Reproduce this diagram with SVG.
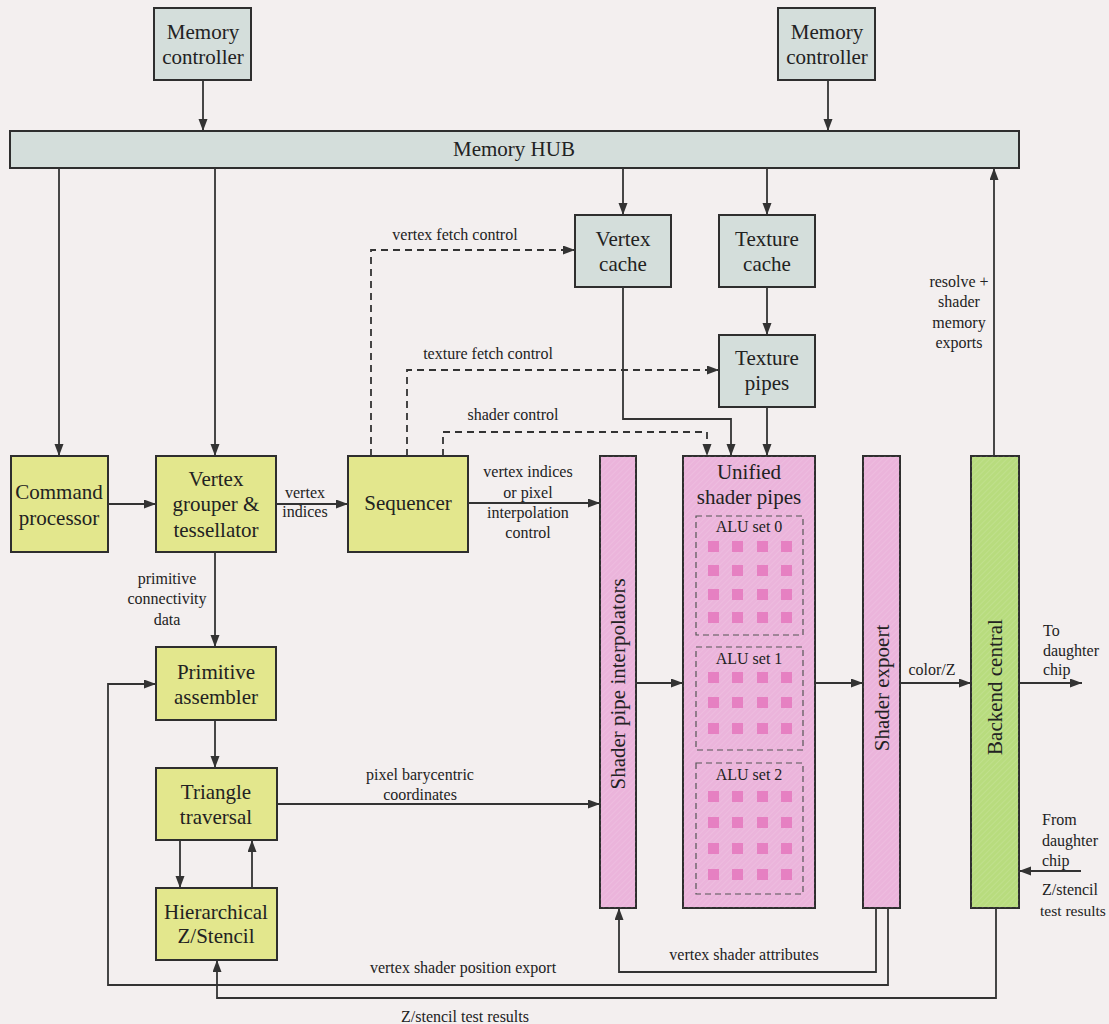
<svg xmlns="http://www.w3.org/2000/svg" width="1109" height="1024" viewBox="0 0 1109 1024">
<defs>
<marker id="ah" markerUnits="userSpaceOnUse" markerWidth="13" markerHeight="10" refX="12" refY="4.5" orient="auto">
<path d="M0,0 L12,4.5 L0,9 z" fill="#333"/>
</marker>
<pattern id="hatch" width="4" height="4" patternUnits="userSpaceOnUse" patternTransform="rotate(45)">
<rect width="4" height="4" fill="none"/>
<line x1="0" y1="0" x2="0" y2="4" stroke="#ffffff" stroke-opacity="0.22" stroke-width="1"/>
</pattern>
</defs>
<style>
.bg{fill:#f3efef}
.box{stroke:#2e2e2e;stroke-width:2}
.mem{fill:#d4dedb}
.yel{fill:#e3e78d}
.pink{fill:#ebb4db}
.green{fill:#b8dc7e}
.t{font-family:"Liberation Serif","Times New Roman",serif;font-size:21px;fill:#222;text-anchor:middle}
.s{font-family:"Liberation Serif","Times New Roman",serif;font-size:16px;fill:#222;text-anchor:middle}
.sl{font-family:"Liberation Serif","Times New Roman",serif;font-size:16px;fill:#222;text-anchor:start}
.ln{fill:none;stroke:#333;stroke-width:1.8}
.dl{fill:none;stroke:#333;stroke-width:1.8;stroke-dasharray:7,5}
.alu{fill:none;stroke:#555;stroke-width:1.2;stroke-dasharray:6,4}
.sq{fill:#e680c2}
</style>
<rect class="bg" x="0" y="0" width="1109" height="1024"/>

<g id="memory-controller-1"><rect class="box mem" x="154" y="8" width="97" height="72"/><text class="t" x="203" y="39">Memory</text><text class="t" x="203" y="64">controller</text></g>
<g id="memory-controller-2"><rect class="box mem" x="778" y="8" width="97" height="72"/><text class="t" x="827" y="39">Memory</text><text class="t" x="827" y="64">controller</text></g>
<g id="memory-hub"><rect class="box mem" x="10" y="131" width="1009" height="37"/><text class="t" x="514" y="156">Memory HUB</text></g>
<g id="vertex-cache"><rect class="box mem" x="575" y="215" width="96" height="72"/><text class="t" x="623" y="246">Vertex</text><text class="t" x="623" y="271">cache</text></g>
<g id="texture-cache"><rect class="box mem" x="719" y="215" width="96" height="72"/><text class="t" x="767" y="246">Texture</text><text class="t" x="767" y="271">cache</text></g>
<g id="texture-pipes"><rect class="box mem" x="719" y="335" width="96" height="72"/><text class="t" x="767" y="365">Texture</text><text class="t" x="767" y="390">pipes</text></g>

<g id="command-processor"><rect class="box yel" x="11" y="456" width="97" height="96"/><text class="t" x="59" y="499">Command</text><text class="t" x="59" y="525">processor</text></g>
<g id="vertex-grouper"><rect class="box yel" x="156" y="456" width="120" height="96"/><text class="t" x="216" y="486">Vertex</text><text class="t" x="216" y="511">grouper &amp;</text><text class="t" x="216" y="537">tessellator</text></g>
<g id="sequencer"><rect class="box yel" x="348" y="456" width="120" height="96"/><text class="t" x="408" y="510">Sequencer</text></g>
<g id="primitive-assembler"><rect class="box yel" x="156" y="647" width="120" height="73"/><text class="t" x="216" y="679">Primitive</text><text class="t" x="216" y="704">assembler</text></g>
<g id="triangle-traversal"><rect class="box yel" x="156" y="768" width="121" height="72"/><text class="t" x="216" y="799">Triangle</text><text class="t" x="216" y="824">traversal</text></g>
<g id="hierarchical-zstencil"><rect class="box yel" x="156" y="888" width="121" height="72"/><text class="t" x="216" y="919">Hierarchical</text><text class="t" x="216" y="943">Z/Stencil</text></g>

<g id="shader-pipe-interpolators"><rect class="box pink" x="600" y="456" width="36" height="452"/><rect x="600" y="456" width="36" height="452" fill="url(#hatch)"/><text class="t" transform="translate(625,684) rotate(-90)">Shader pipe interpolators</text></g>
<g id="unified-shader-pipes">
<rect class="box pink" x="683" y="456" width="132" height="452"/><rect x="683" y="456" width="132" height="452" fill="url(#hatch)"/>
<text class="t" x="749" y="479">Unified</text><text class="t" x="749" y="504">shader pipes</text>
<rect class="alu" x="696" y="516" width="107" height="119"/>
<text class="s" x="749" y="532">ALU set 0</text>
<rect class="alu" x="696" y="647" width="107" height="103"/>
<text class="s" x="749" y="664">ALU set 1</text>
<rect class="alu" x="696" y="763" width="107" height="131"/>
<text class="s" x="749" y="780">ALU set 2</text>
<g class="sq">
<rect x="708" y="541" width="11" height="11"/><rect x="732" y="541" width="11" height="11"/><rect x="757" y="541" width="11" height="11"/><rect x="781" y="541" width="11" height="11"/>
<rect x="708" y="565" width="11" height="11"/><rect x="732" y="565" width="11" height="11"/><rect x="757" y="565" width="11" height="11"/><rect x="781" y="565" width="11" height="11"/>
<rect x="708" y="589" width="11" height="11"/><rect x="732" y="589" width="11" height="11"/><rect x="757" y="589" width="11" height="11"/><rect x="781" y="589" width="11" height="11"/>
<rect x="708" y="612" width="11" height="11"/><rect x="732" y="612" width="11" height="11"/><rect x="757" y="612" width="11" height="11"/><rect x="781" y="612" width="11" height="11"/>
<rect x="708" y="672" width="11" height="11"/><rect x="732" y="672" width="11" height="11"/><rect x="757" y="672" width="11" height="11"/><rect x="781" y="672" width="11" height="11"/>
<rect x="708" y="697" width="11" height="11"/><rect x="732" y="697" width="11" height="11"/><rect x="757" y="697" width="11" height="11"/><rect x="781" y="697" width="11" height="11"/>
<rect x="708" y="723" width="11" height="11"/><rect x="732" y="723" width="11" height="11"/><rect x="757" y="723" width="11" height="11"/><rect x="781" y="723" width="11" height="11"/>
<rect x="708" y="791" width="11" height="11"/><rect x="732" y="791" width="11" height="11"/><rect x="757" y="791" width="11" height="11"/><rect x="781" y="791" width="11" height="11"/>
<rect x="708" y="817" width="11" height="11"/><rect x="732" y="817" width="11" height="11"/><rect x="757" y="817" width="11" height="11"/><rect x="781" y="817" width="11" height="11"/>
<rect x="708" y="843" width="11" height="11"/><rect x="732" y="843" width="11" height="11"/><rect x="757" y="843" width="11" height="11"/><rect x="781" y="843" width="11" height="11"/>
<rect x="708" y="869" width="11" height="11"/><rect x="732" y="869" width="11" height="11"/><rect x="757" y="869" width="11" height="11"/><rect x="781" y="869" width="11" height="11"/>
</g>
</g>
<g id="shader-export"><rect class="box pink" x="863" y="456" width="37" height="452"/><rect x="863" y="456" width="37" height="452" fill="url(#hatch)"/><text class="t" transform="translate(889,688) rotate(-90)">Shader expoert</text></g>
<g id="backend-central"><rect class="box green" x="971" y="456" width="48" height="452"/><rect x="971" y="456" width="48" height="452" fill="url(#hatch)"/><text class="t" transform="translate(1002,687) rotate(-90)">Backend central</text></g>

<g id="connectors">
<path class="ln" d="M203,80 V131" marker-end="url(#ah)"/>
<path class="ln" d="M828,80 V131" marker-end="url(#ah)"/>
<path class="ln" d="M59,168 V456" marker-end="url(#ah)"/>
<path class="ln" d="M215,168 V456" marker-end="url(#ah)"/>
<path class="ln" d="M623,168 V215" marker-end="url(#ah)"/>
<path class="ln" d="M767,168 V215" marker-end="url(#ah)"/>
<path class="ln" d="M767,287 V335" marker-end="url(#ah)"/>
<path class="ln" d="M623,287 V419 H731 V456" marker-end="url(#ah)"/>
<path class="ln" d="M767,407 V456" marker-end="url(#ah)"/>
<path class="ln" d="M994,456 V168" marker-end="url(#ah)"/>
<path class="dl" d="M371,456 V250 H575" marker-end="url(#ah)"/>
<path class="dl" d="M407,456 V370 H719" marker-end="url(#ah)"/>
<path class="dl" d="M443,456 V432 H707 V456" marker-end="url(#ah)"/>
<path class="ln" d="M108,504 H156" marker-end="url(#ah)"/>
<path class="ln" d="M276,504 H348" marker-end="url(#ah)"/>
<path class="ln" d="M468,503 H600" marker-end="url(#ah)"/>
<path class="ln" d="M215,552 V647" marker-end="url(#ah)"/>
<path class="ln" d="M215,720 V768" marker-end="url(#ah)"/>
<path class="ln" d="M180,840 V888" marker-end="url(#ah)"/>
<path class="ln" d="M252,888 V840" marker-end="url(#ah)"/>
<path class="ln" d="M277,804 H600" marker-end="url(#ah)"/>
<path class="ln" d="M636,683 H683" marker-end="url(#ah)"/>
<path class="ln" d="M815,683 H863" marker-end="url(#ah)"/>
<path class="ln" d="M900,683 H971" marker-end="url(#ah)"/>
<path class="ln" d="M1019,683 H1082" marker-end="url(#ah)"/>
<path class="ln" d="M1081,871 H1019" marker-end="url(#ah)"/>
<path class="ln" d="M876,908 V972 H619 V908" marker-end="url(#ah)"/>
<path class="ln" d="M888,908 V985 H108 V684 H156" marker-end="url(#ah)"/>
<path class="ln" d="M996,908 V998 H217 V960" marker-end="url(#ah)"/>
</g>

<g id="labels">
<text class="s" x="455" y="240">vertex fetch control</text>
<text class="s" x="488" y="359">texture fetch control</text>
<text class="s" x="513" y="420">shader control</text>
<text class="s" x="959" y="287">resolve +</text>
<text class="s" x="959" y="307">shader</text>
<text class="s" x="959" y="328">memory</text>
<text class="s" x="959" y="348">exports</text>
<text class="s" x="305" y="498">vertex</text>
<text class="s" x="305" y="517">indices</text>
<text class="s" x="528" y="477">vertex indices</text>
<text class="s" x="528" y="498">or pixel</text>
<text class="s" x="528" y="518">interpolation</text>
<text class="s" x="528" y="538">control</text>
<text class="s" x="167" y="584">primitive</text>
<text class="s" x="167" y="604">connectivity</text>
<text class="s" x="167" y="625">data</text>
<text class="s" x="420" y="780">pixel barycentric</text>
<text class="s" x="420" y="800">coordinates</text>
<text class="s" x="932" y="675">color/Z</text>
<text class="sl" x="1043" y="636">To</text>
<text class="sl" x="1043" y="656">daughter</text>
<text class="sl" x="1043" y="675">chip</text>
<text class="sl" x="1042" y="825">From</text>
<text class="sl" x="1042" y="846">daughter</text>
<text class="sl" x="1042" y="866">chip</text>
<text class="sl" x="1042" y="895">Z/stencil</text>
<text class="sl" x="1040" y="916" style="font-size:15.5px">test results</text>
<text class="s" x="744" y="960">vertex shader attributes</text>
<text class="s" x="463" y="973">vertex shader position export</text>
<text class="s" x="465" y="1022">Z/stencil test results</text>
</g>
</svg>
